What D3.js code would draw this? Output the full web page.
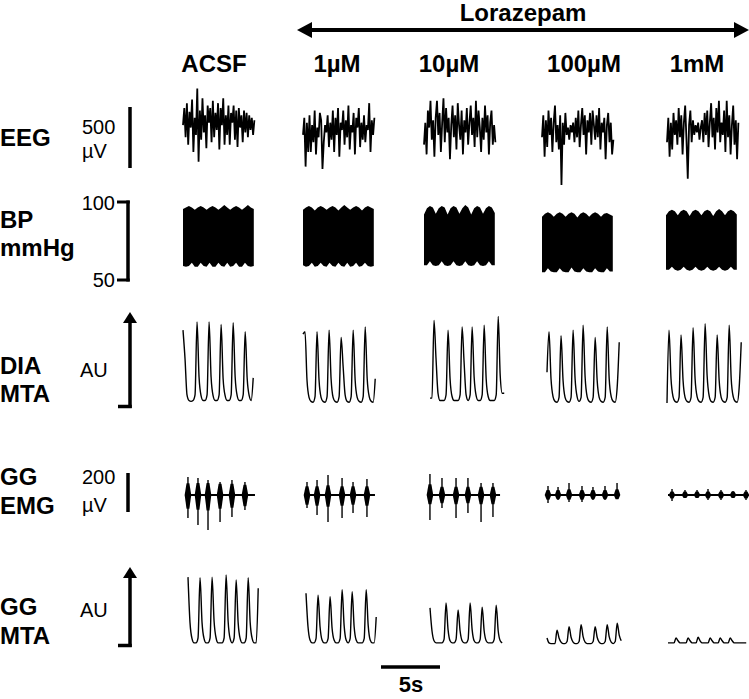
<!DOCTYPE html>
<html>
<head>
<meta charset="utf-8">
<script src="https://cdn.jsdelivr.net/npm/d3@7"></script>
<style>
body { margin: 0; background: #fff; }
text { font-family: "Liberation Sans", Arial, sans-serif; fill: #000; }
</style>
</head>
<body>
<script>
// conditions (columns)
var conditions = ['ACSF', '1µM', '10µM', '100µM', '1mM'];

// EEG traces, µV, sampled every 0.11 s
var eeg_uv = [
  [40, 180, -60, 220, -120, 150, 20, 250, -180, 100, -40, 340, -260, 160, -80, 260, -20, 120, -150, 200, 60, 180, -100, 240, -60, 140, 0, 220, -160, 180, 40, 260, -120, 120, -40, 200, -120, 140, 60, 200, -80, 160, -140, 180, 20, 120, -100, 160, -20, 140, -60, 120, 0, 100, -40, 80],
  [-40, 100, -300, 60, -180, 120, -180, 40, -100, 160, -200, 20, -60, 140, 80, -320, -100, 40, -20, 120, -140, 60, -80, 160, -180, 100, -40, 180, -220, 60, 0, 160, -120, 80, -60, 200, -160, 40, -20, 140, -200, 100, 20, 180, -140, 60, -80, 120, -100, 40, 0, 220, -180, 80, -40, 100],
  [-120, 60, -200, 160, 20, 240, -80, 80, -220, 100, 240, -40, 140, -180, 60, 260, -100, 180, -20, 100, -240, 40, 200, -60, 120, -160, 220, 40, -80, 160, -200, 80, -20, 180, -120, 60, 200, -40, 100, -140, 240, -60, 160, 20, -180, 100, -80, 200, -20, 120, -200, 60, 160, -120, 40, -100],
  [-60, 120, -220, 80, -140, 160, -40, 100, -180, 60, 200, -100, 40, -160, 120, -450, 60, -120, 140, -40, 20, -80, 40, -20, 60, -100, 100, -60, 160, -140, 40, 180, -40, 120, -200, 80, -20, 140, -120, 160, 40, -80, 120, -60, 180, -160, 60, -20, 100, -240, 40, 140, -100, 60, -200, -80],
  [-100, 100, -220, 60, -160, 140, -40, 80, -120, 180, -60, 120, -200, 60, 200, -80, -400, 40, 160, -100, 80, -40, 40, -20, 60, -80, 20, 80, -100, 140, -40, 160, -140, 60, 220, -60, 100, -160, 180, -20, 240, -100, 60, -40, 160, -180, 240, -60, 120, -200, 40, 200, -120, 80, -240, 60]
];

// BP envelope (systolic top / diastolic bottom), mmHg, every 0.25 s
var bp_top = [
  [95.5, 96.5, 97.5, 96.5, 95, 96.5, 97.5, 96.5, 95, 96.5, 97.5, 96.5, 95, 96.5, 98, 96.5, 95, 96.5, 97.5, 96.5, 95, 96.5, 98, 96.5, 95.5],
  [95, 96.5, 97.5, 96.5, 94.5, 96.5, 97.5, 96.5, 95, 96.5, 97.5, 96.5, 94.5, 96.5, 98, 96.5, 95, 96.5, 97.5, 96.5, 94.5, 96.5, 97.5, 96.5, 95.5],
  [92, 96, 97.5, 96.5, 92.5, 96, 97.5, 96.5, 92, 96, 97.5, 96.5, 92.5, 96, 98, 96.5, 92, 96, 97.5, 96.5, 92.5, 96, 97.5, 96.5, 93],
  [90.5, 92.5, 93.5, 92.5, 90.5, 92.5, 93.5, 92.5, 90.5, 92.5, 93.5, 92.5, 90, 92.5, 93.5, 92.5, 90.5, 92.5, 93.5, 92.5, 90.5, 92.5, 93, 92, 91],
  [91.5, 94, 95, 94, 91.5, 94, 95, 94, 91, 94, 95, 94, 91.5, 94, 95, 94, 91, 94, 95.5, 94, 91.5, 94, 95, 94, 92]
];
var bp_bottom = [
  [59, 58.5, 59, 61, 58.5, 58.5, 61, 59, 58.5, 61, 58.5, 58.5, 61, 59, 58.5, 61, 58.5, 59, 61, 58.5, 58.5, 61, 59, 58.5, 59],
  [59.5, 58.5, 59, 61, 58.5, 59, 61, 59, 58.5, 61, 59, 58.5, 61, 59, 58.5, 61, 58.5, 59, 61, 58.5, 59, 61, 59, 58.5, 59],
  [59.5, 59.5, 62, 59.5, 59, 59.5, 62, 59.5, 59, 59.5, 62, 59.5, 59, 59.5, 62, 59.5, 59, 59.5, 62, 59.5, 59, 59.5, 62, 59.5, 59.5],
  [55, 55, 57.5, 55.5, 55, 55, 57.5, 55.5, 55, 55, 58, 55.5, 55, 55, 57.5, 55.5, 55, 55, 57.5, 55.5, 55, 55, 57.5, 55.5, 55.5],
  [56.5, 56.5, 58.5, 56.5, 56, 56.5, 58.5, 56.5, 56, 56.5, 58.5, 56.5, 56, 56.5, 58.5, 56.5, 56, 56.5, 58.5, 56.5, 56, 56.5, 58.5, 56.5, 56.5]
];

// diaphragm moving time average, AU, every 0.17 s
var dia_mta = [
  [90, 55, 10, 3, 2, 3, 10, 100, 32, 9, 3, 3, 10, 100, 32, 9, 3, 3, 10, 97, 30, 9, 3, 3, 10, 99, 32, 9, 3, 3, 10, 88, 30, 9, 3, 31],
  [85, 88, 28, 7, 2, 1, 8, 88, 28, 7, 2, 1, 8, 90, 30, 7, 2, 1, 8, 81, 45, 10, 2, 1, 8, 90, 28, 7, 2, 1, 8, 94, 30, 8, 2, 1, 30],
  [6, 6, 102, 55, 12, 3, 3, 3, 10, 90, 30, 8, 3, 3, 3, 10, 94, 50, 10, 3, 10, 94, 32, 9, 3, 3, 10, 96, 30, 8, 3, 3, 3, 10, 107, 34, 12, 12],
  [38, 88, 30, 8, 2, 1, 7, 83, 28, 7, 2, 1, 7, 90, 30, 8, 2, 7, 96, 32, 8, 2, 1, 7, 81, 28, 7, 2, 1, 7, 94, 30, 8, 2, 1, 20, 75],
  [0, 90, 30, 8, 2, 1, 7, 84, 28, 7, 2, 1, 7, 93, 30, 8, 2, 1, 7, 98, 34, 9, 2, 1, 7, 84, 28, 7, 2, 1, 7, 96, 30, 8, 2, 1, 20, 75]
];

// genioglossus EMG bursts: time (s), spike up / down and burst body up / down (µV)
var emg_time = [
  [0.25, 1.1, 1.95, 2.97, 3.98, 5.08],
  [0.17, 1.02, 1.95, 3.14, 4.07, 5.25],
  [0.25, 1.27, 2.46, 3.47, 4.58, 5.59],
  [0.17, 1.02, 1.95, 3.05, 3.98, 5.0, 6.02],
  [0.34, 1.44, 2.46, 3.39, 4.49, 5.51, 6.61]
];
var emg_spike_up = [
  [92, 87, 77, 67, 77, 67],
  [67, 77, 103, 87, 67, 82],
  [108, 87, 87, 87, 62, 62],
  [46, 41, 62, 46, 41, 46, 62],
  [31, 26, 26, 31, 26, 21, 26]
];
var emg_spike_down = [
  [118, 154, 180, 138, 113, 77],
  [67, 103, 138, 118, 92, 113],
  [128, 67, 118, 92, 138, 113],
  [41, 26, 36, 36, 26, 26, 21],
  [31, 15, 15, 26, 26, 15, 26]
];
var emg_body_up = [
  [60, 62, 62, 58, 58, 52],
  [45, 45, 50, 45, 45, 45],
  [55, 42, 42, 42, 42, 42],
  [26, 26, 30, 26, 26, 26, 30],
  [18, 18, 18, 18, 18, 18, 18]
];
var emg_body_down = [
  [70, 75, 80, 70, 65, 58],
  [50, 55, 60, 55, 50, 55],
  [48, 42, 48, 42, 48, 48],
  [24, 22, 24, 24, 22, 22, 22],
  [18, 15, 15, 18, 18, 15, 18]
];
var emg_length = [5.93, 5.93, 6.19, 6.27, 6.78];

// genioglossus moving time average, AU, every 0.17 s
var gg_mta = [
  [97, 32, 9, 3, 3, 10, 96, 32, 9, 3, 3, 10, 97, 34, 10, 3, 3, 3, 10, 100, 34, 9, 3, 10, 93, 32, 9, 3, 3, 10, 96, 32, 9, 3, 3, 81],
  [74, 26, 7, 3, 3, 9, 71, 26, 7, 3, 3, 9, 69, 24, 7, 3, 3, 9, 79, 28, 7, 3, 9, 76, 26, 7, 3, 3, 3, 9, 79, 28, 7, 3, 3, 40],
  [53, 20, 6, 3, 3, 3, 3, 8, 60, 22, 6, 3, 3, 8, 50, 20, 6, 3, 3, 8, 60, 22, 6, 3, 3, 8, 54, 20, 6, 3, 3, 3, 8, 57, 20, 6, 3],
  [10, 3, 2, 2, 2, 21, 10, 4, 2, 2, 5, 26, 11, 4, 2, 2, 5, 29, 12, 4, 2, 2, 2, 5, 26, 11, 4, 2, 2, 5, 29, 12, 4, 2, 5, 31, 14, 6],
  [3, 3, 3, 3, 10, 6, 3, 3, 3, 3, 10, 6, 3, 3, 3, 11, 6, 3, 3, 3, 3, 10, 6, 3, 3, 3, 10, 6, 3, 3, 3, 10, 6, 3, 3, 3, 3, 3, 3, 3]
];

// sampling intervals (s)
var eeg_dt = 0.11, bp_dt = 0.25, mta_dt = 0.17;

// where each trace starts (px), per row
var x_start = {
  eeg: [183, 303, 424, 542, 667],
  bp:  [183, 303, 424, 542, 666],
  dia: [183, 303, 430, 547, 667],
  emg: [185, 305, 427, 546, 668],
  gg:  [188, 306, 430, 547, 668]
};
var label_x = [214, 337, 449, 584, 697];

var svg, t_scale;

function add_text(str, x, y, size, bold, anchor)  {
	svg.append('text').attr('x', x).attr('y', y)
		.attr('font-size', size).attr('font-weight', bold ? 'bold' : 'normal')
		.attr('text-anchor', anchor || 'start').text(str);
}

function vline(x, y0, y1, w)  {
	svg.append('line').attr('x1', x).attr('x2', x).attr('y1', y0).attr('y2', y1)
		.attr('stroke', '#000').attr('stroke-width', w);
}

function hline(x0, x1, y, w)  {
	svg.append('line').attr('x1', x0).attr('x2', x1).attr('y1', y).attr('y2', y)
		.attr('stroke', '#000').attr('stroke-width', w);
}

// upward AU arrow with a foot at the bottom
function au_arrow(x, top, bottom)  {
	vline(x, top + 8, bottom, 3.5);
	hline(x - 12, x + 1.75, bottom - 1.5, 3.5);
	svg.append('path').attr('d', 'M' + (x - 7) + ',' + (top + 11) + 'L' + x + ',' + top + 'L' + (x + 7) + ',' + (top + 11) + 'Z').attr('fill', '#000');
}

function draw_line_trace(values, dt, x0, y_scale, curve, width)  {
	var line = d3.line()
		.x((d, i) => x0 + t_scale(i * dt))
		.y(d => y_scale(d))
		.curve(curve);
	svg.append('path').datum(values).attr('d', line)
		.attr('fill', 'none').attr('stroke', '#000').attr('stroke-width', width)
		.attr('stroke-linejoin', 'miter');
}

function plot_it()  {
	svg = d3.select('body').append('svg').attr('width', 749).attr('height', 699);
	t_scale = d3.scaleLinear().domain([0, 5]).range([0, 59]);

	var eeg_y = d3.scaleLinear().domain([-500, 500]).range([191, 69]);
	var bp_y = d3.scaleLinear().domain([50, 100]).range([280, 202]);
	var dia_y = d3.scaleLinear().domain([0, 100]).range([403, 322]);
	var emg_y = d3.scaleLinear().domain([-200, 200]).range([534, 456]);
	var gg_y = d3.scaleLinear().domain([0, 100]).range([645, 575]);

	// header: Lorazepam with double arrow
	add_text('Lorazepam', 523, 21, 24, true, 'middle');
	hline(308, 738, 30, 4);
	svg.append('path').attr('d', 'M297,30L312,22L312,38Z').attr('fill', '#000');
	svg.append('path').attr('d', 'M749,30L734,22L734,38Z').attr('fill', '#000');
	conditions.forEach((c, i) => add_text(c, label_x[i], 72, 24, true, 'middle'));

	// row labels and calibrations
	add_text('EEG', 0, 146, 24, true);
	add_text('500', 82, 134, 20);
	add_text('µV', 82, 158, 20);
	vline(130, 168 - (eeg_y(500) - eeg_y(0)) * -1, 168, 3.5);

	add_text('BP', 0, 228, 24, true);
	add_text('mmHg', 0, 256, 24, true);
	add_text('100', 115, 210, 20, false, 'end');
	add_text('50', 115, 287, 20, false, 'end');
	vline(128, bp_y(100) - 1.5, bp_y(50) + 1.5, 3.5);
	hline(117, 129.75, bp_y(100), 3);
	hline(117, 129.75, bp_y(50), 3);

	add_text('DIA', 0, 374, 24, true);
	add_text('MTA', 0, 402, 24, true);
	add_text('AU', 80, 377, 20);
	au_arrow(130, 312, 408);

	add_text('GG', 0, 485, 24, true);
	add_text('EMG', 0, 514, 24, true);
	add_text('200', 82, 484, 20);
	add_text('µV', 82, 512, 20);
	vline(128, 512 - (emg_y(0) - emg_y(200)), 512, 3.5);

	add_text('GG', 0, 615, 24, true);
	add_text('MTA', 0, 644, 24, true);
	add_text('AU', 80, 617, 20);
	au_arrow(130, 567, 647);

	// 5 s time bar
	hline(381 + t_scale(0), 381 + t_scale(5), 667, 3.5);
	add_text('5s', 411, 692, 22, true, 'middle');

	var bp_area = d3.area().curve(d3.curveLinear);

	for(var c = 0; c < conditions.length; c++)  {
		// EEG
		draw_line_trace(eeg_uv[c], eeg_dt, x_start.eeg[c], eeg_y, d3.curveLinear, 1.8);

		// BP as filled band between envelopes
		var x0 = x_start.bp[c];
		var tops = bp_top[c], bots = bp_bottom[c];
		bp_area.x((d, i) => x0 + t_scale(i * bp_dt))
			.y0((d, i) => bp_y(bots[i]))
			.y1(d => bp_y(d));
		svg.append('path').datum(tops).attr('d', bp_area).attr('fill', '#000');

		// DIA MTA
		draw_line_trace(dia_mta[c], mta_dt, x_start.dia[c], dia_y, d3.curveMonotoneX, 1.4);

		// GG EMG: baseline plus bursts
		var ex = x_start.emg[c];
		hline(ex, ex + t_scale(emg_length[c]), emg_y(0), 2);
		for(var b = 0; b < emg_time[c].length; b++)  {
			var t = emg_time[c][b];
			var body = [[t - 0.28, 0], [t - 0.12, emg_body_up[c][b]], [t + 0.12, emg_body_up[c][b]], [t + 0.28, 0],
			            [t + 0.12, -emg_body_down[c][b]], [t - 0.12, -emg_body_down[c][b]]];
			svg.append('path').datum(body)
				.attr('d', d3.line().x(d => ex + t_scale(d[0])).y(d => emg_y(d[1])).curve(d3.curveLinearClosed))
				.attr('fill', '#000');
			vline(ex + t_scale(t), emg_y(emg_spike_up[c][b]), emg_y(-emg_spike_down[c][b]), 1.4);
		}

		// GG MTA
		draw_line_trace(gg_mta[c], mta_dt, x_start.gg[c], gg_y, d3.curveMonotoneX, 1.4);
	}
}

plot_it();
</script>
</body>
</html>
